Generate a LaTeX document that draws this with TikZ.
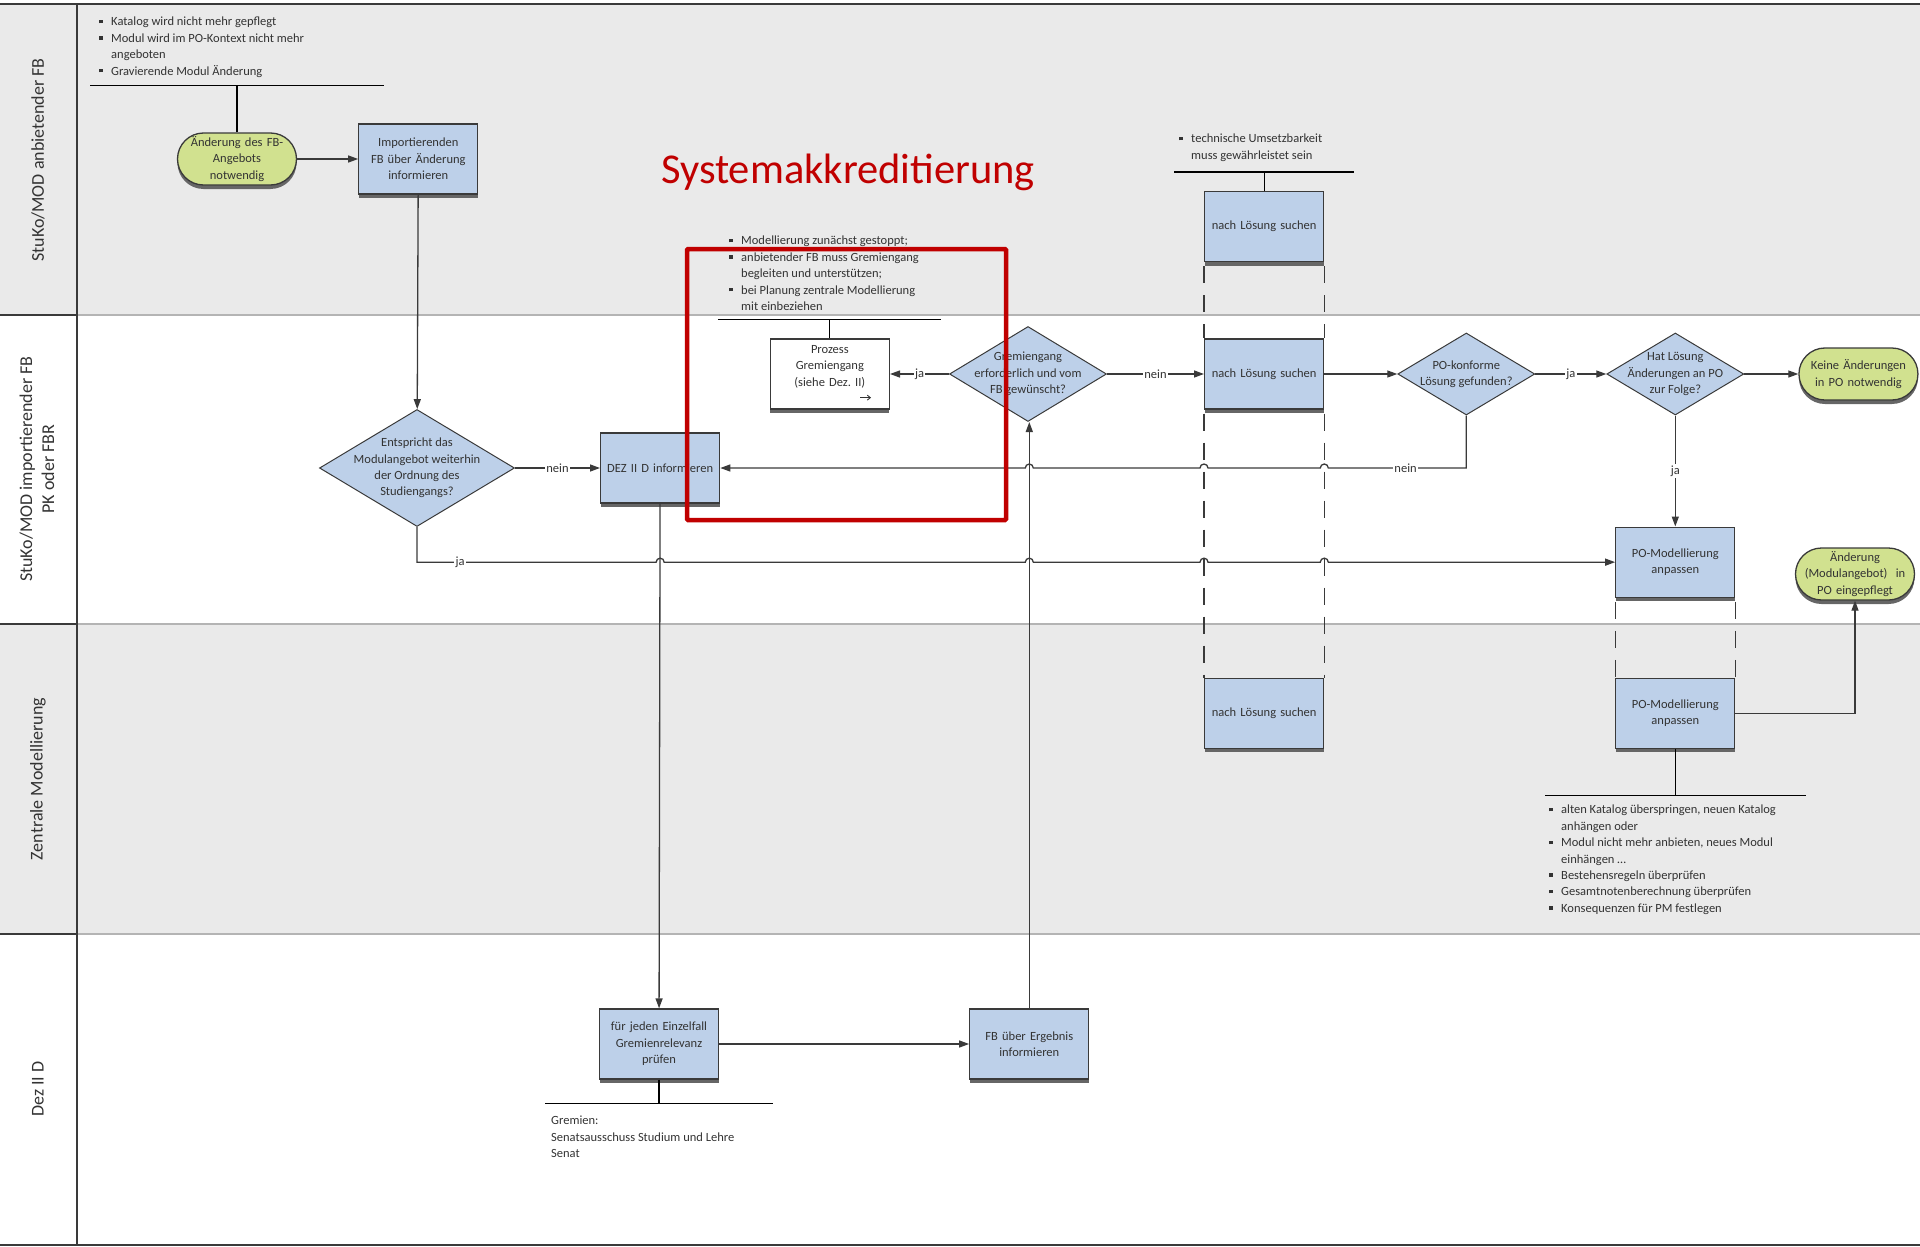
\documentclass[tikz,border=0pt]{standalone}
\usepackage{fontspec}
\setmainfont{Carlito}
\usetikzlibrary{arrows.meta,positioning,shapes.geometric,shadows}
\definecolor{laneGray}{HTML}{EAEAEA}
\definecolor{laneRule}{HTML}{B4B4B4}
\definecolor{taskBlue}{HTML}{BDD0E9}
\definecolor{termGreen}{HTML}{D1E18F}
\definecolor{edgeDark}{HTML}{3A3A3A}
\definecolor{inkGray}{HTML}{333333}
\definecolor{markRed}{HTML}{C00000}
\newcommand{\boxfont}{\fontsize{12.5}{16.4}\selectfont}
\newcommand{\lanefont}{\fontsize{18}{22}\selectfont}
\newcommand{\sqbul}{\makebox[12pt][l]{\raisebox{2.6pt}{\rule{3.4pt}{3.4pt}}}}
\newcommand{\hopR}{arc[start angle=180, end angle=360, radius=4]}
\newcommand{\hopL}{arc[start angle=0, end angle=-180, radius=4]}
\frenchspacing

\begin{document}
\begin{tikzpicture}[x=1pt, y=-1pt,
  task/.style={draw=edgeDark, line width=1.3pt, fill=taskBlue, text=inkGray, font=\boxfont, align=center,
    text width=115pt, inner sep=2pt, minimum height=70pt,
    drop shadow={shadow xshift=0pt, shadow yshift=-4pt, fill=black!60, opacity=1}},
  subtask/.style={task, fill=white},
  term/.style={draw=edgeDark, line width=1.3pt, fill=termGreen, text=inkGray, font=\boxfont, align=center,
    text width=117pt, inner sep=1pt, minimum height=52pt, rounded corners=26pt,
    drop shadow={shadow xshift=0pt, shadow yshift=-4pt, fill=black!60, opacity=1}},
  decision/.style={diamond, draw=edgeDark, line width=1pt, fill=taskBlue, inner sep=0pt},
  dectext/.style={font=\boxfont, text=inkGray, align=center, inner sep=0pt},
  arr/.style={-{Triangle[length=10pt,width=7pt]}, line width=1.3pt, color=edgeDark},
  lbl/.style={font=\boxfont, text=inkGray, fill=white, inner sep=1.5pt},
  notebar/.style={line width=1.2pt, color=black},
  notetext/.style={font=\boxfont, text=inkGray, align=left, inner sep=0pt, anchor=north west},
  spanline/.style={line width=1.2pt, color=edgeDark, dash pattern=on 17pt off 12pt},
  lanelabel/.style={rotate=90, font=\lanefont, text=inkGray, align=center}
]
  \useasboundingbox (0,0) rectangle (1920,1247);

  % swimlanes
  \fill[laneGray] (0,4) rectangle (1920,315);
  \fill[laneGray] (0,624) rectangle (1920,934);
  \draw[laneRule, line width=1.5pt] (77,315) -- (1920,315);
  \draw[laneRule, line width=1.5pt] (77,624) -- (1920,624);
  \draw[laneRule, line width=1.5pt] (77,934) -- (1920,934);
  \draw[edgeDark, line width=1.5pt] (0,315) -- (77,315);
  \draw[edgeDark, line width=1.5pt] (0,624) -- (77,624);
  \draw[edgeDark, line width=1.5pt] (0,934) -- (77,934);
  \draw[edgeDark, line width=1.8pt] (0,4) -- (1920,4);
  \draw[edgeDark, line width=1.8pt] (0,1245) -- (1920,1245);
  \draw[edgeDark, line width=1.8pt] (77,4) -- (77,1245);

  \node[lanelabel] (laneA) at (38,160) {StuKo/MOD anbietender FB};
  \node[lanelabel] (laneB) at (37,469) {StuKo/MOD importierender FB\\PK oder FBR};
  \node[lanelabel] (laneC) at (38,779) {Zentrale Modellierung};
  \node[lanelabel] (laneD) at (38,1089) {Dez II D};

  \node[font=\fontsize{42.5}{50}\selectfont, text=markRed, anchor=base] (title) at (848,183) {Systemakkreditierung};

  % flow
  \node[term] (start) at (237,159) {Änderung des FB-\\Angebots\\notwendig};
  \node[task, right=61pt of start] (inform) {Importierenden\\FB über Änderung\\informieren};
  \node[decision, minimum width=195pt, minimum height=117pt] (check) at (417,468) {};
  \node[dectext] (checkT) at (check) {Entspricht das\\Modulangebot weiterhin\\der Ordnung des\\Studiengangs?};
  \node[task, right=85pt of check] (dez) {DEZ II D informieren};
  \node[decision, minimum width=157pt, minimum height=95pt] (needed) at (1028,374) {};
  \node[dectext] (neededT) at (needed) {Gremiengang\\erforderlich und vom\\FB gewünscht?};
  \node[subtask, left=59pt of needed] (gremium) {Prozess\\Gremiengang\\(siehe Dez. II)\\\mbox{}};
  \node[task, right=97pt of needed] (searchB) {nach Lösung suchen};
  \node[task, above=76pt of searchB] (searchA) {nach Lösung suchen};
  \node[task, below=268pt of searchB] (searchC) {nach Lösung suchen};
  \node[decision, minimum width=137pt, minimum height=82pt, right=73pt of searchB] (conform) {};
  \node[dectext] (conformT) at (conform) {PO-konforme\\Lösung gefunden?};
  \node[decision, minimum width=137pt, minimum height=82pt, right=71pt of conform] (impact) {};
  \node[dectext] (impactT) at (impact) {Hat Lösung\\Änderungen an PO\\zur Folge?};
  \node[term, right=54pt of impact] (nochange) {Keine Änderungen\\in PO notwendig};
  \node[task, below=111pt of impact] (poA) {PO-Modellierung\\anpassen};
  \node[task, below=80pt of poA] (poB) {PO-Modellierung\\anpassen};
  \node[term] (done) at (1855,574) {Änderung\\(Modulangebot)~ in\\PO eingepflegt};
  \node[task] (relevance) at (659,1044) {für jeden Einzelfall\\Gremienrelevanz\\prüfen};
  \node[task, right=250pt of relevance] (result) {FB über Ergebnis\\informieren};

  \draw[-{Straight Barb[length=3pt,width=5pt]}, line width=0.9pt, inkGray] ([shift={(-30,-12)}]gremium.south east) -- ++(11,0);

  % notes
  \draw[notebar] (start.north) -- ++(0,-47) coordinate (barA);
  \draw[notebar] ([xshift=-147pt]barA) -- ([xshift=147pt]barA);
  \node[notetext] (noteA) at (99,17) {\sqbul Katalog wird nicht mehr gepflegt\\
    \sqbul Modul wird im PO-Kontext nicht mehr\\
    \hspace*{12pt}angeboten\\
    \sqbul Gravierende Modul Änderung};
  \draw[notebar] (gremium.north) -- ++(0,-19) coordinate (barB);
  \draw[notebar] ([xshift=-112pt]barB) -- ([xshift=111pt]barB);
  \node[notetext] (noteB) at (729,236) {\sqbul Modellierung zunächst gestoppt;\\
    \sqbul anbietender FB muss Gremiengang\\
    \hspace*{12pt}begleiten und unterstützen;\\
    \sqbul bei Planung zentrale Modellierung\\
    \hspace*{12pt}mit einbeziehen};
  \draw[notebar] (searchA.north) -- ++(0,-19) coordinate (barC);
  \draw[notebar] ([xshift=-90pt]barC) -- ([xshift=90pt]barC);
  \node[notetext] (noteC) at (1179,134) {\sqbul technische Umsetzbarkeit\\
    \hspace*{12pt}muss gewährleistet sein};
  \draw[notebar] (poB.south) -- ++(0,46) coordinate (barD);
  \draw[notebar] ([xshift=-130pt]barD) -- ([xshift=131pt]barD);
  \node[notetext] (noteD) at (1549,805) {\sqbul alten Katalog überspringen, neuen Katalog\\
    \hspace*{12pt}anhängen oder\\
    \sqbul Modul nicht mehr anbieten, neues Modul\\
    \hspace*{12pt}einhängen \dots\\
    \sqbul Bestehensregeln überprüfen\\
    \sqbul Gesamtnotenberechnung überprüfen\\
    \sqbul Konsequenzen für PM festlegen};
  \draw[notebar] (relevance.south) -- ++(0,24) coordinate (barE);
  \draw[notebar] ([xshift=-114pt]barE) -- ([xshift=114pt]barE);
  \node[notetext] (noteE) at (551,1116) {Gremien:\\Senatsausschuss Studium und Lehre\\Senat};

  % connectors
  \draw[arr] (start) -- (inform);
  \draw[arr] (inform) -- (check);
  \draw[arr] (check) -- node[lbl] {nein} (dez);
  \draw[arr] (check.south) |- node[lbl, pos=0.59] {ja} ([xshift=-4pt]dez.south |- poA.west) \hopR
    -- ([xshift=-4pt]result.north |- poA.west) \hopR
    -- ([xshift=-4pt]searchB.south west |- poA.west) \hopR
    -- ([xshift=-4pt]searchB.south east |- poA.west) \hopR
    -- (poA.west);
  \draw[arr] (needed) -- node[lbl] {ja} (gremium);
  \draw[arr] (needed) -- node[lbl] {nein} (searchB);
  \draw[arr] (searchB) -- (conform);
  \draw[arr] (conform) -- node[lbl] {ja} (impact);
  \draw[arr] (impact) -- (nochange);
  \draw[arr] (impact) -- node[lbl] {ja} (poA);
  \draw[arr] (conform.south) |- node[lbl, pos=0.72] {nein} ([xshift=4pt]searchB.south east |- dez.east) \hopL
    -- ([xshift=4pt]searchB.south west |- dez.east) \hopL
    -- ([xshift=4pt]result.north |- dez.east) \hopL
    -- (dez.east);
  \draw[arr] (poB.east) -| (done.south);
  \draw[arr] (dez) -- (relevance);
  \draw[arr] (relevance) -- (result);
  \draw[arr] (result.north) -- (result.north |- needed.south);

  % same activity across lanes
  \draw[spanline] ([yshift=-4pt]searchA.south west) -- (searchB.north west);
  \draw[spanline] ([yshift=-4pt]searchA.south east) -- (searchB.north east);
  \draw[spanline] ([yshift=-4pt]searchB.south west) -- (searchC.north west);
  \draw[spanline] ([yshift=-4pt]searchB.south east) -- (searchC.north east);
  \draw[spanline] ([yshift=-4pt]poA.south west) -- (poB.north west);
  \draw[spanline] ([yshift=-4pt]poA.south east) -- (poB.north east);

  % highlight
  \draw[markRed, line width=4.5pt, rounded corners=1pt] (687,249) rectangle (1006,520);
\end{tikzpicture}
\end{document}
